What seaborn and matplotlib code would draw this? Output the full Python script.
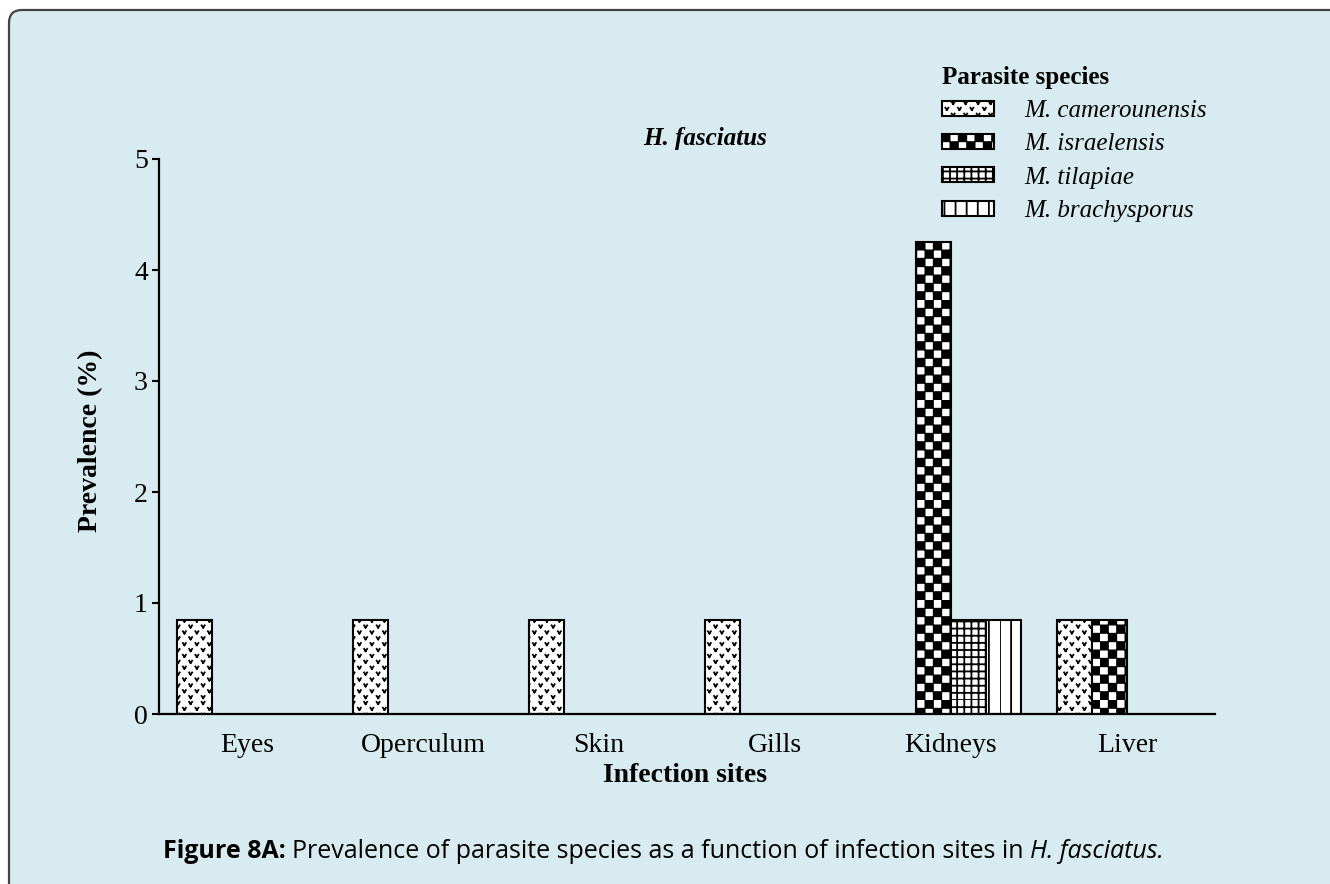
import os
import warnings
import numpy as np
import pandas as pd
import matplotlib
matplotlib.use("Agg")
import matplotlib.pyplot as plt
import matplotlib.hatch as mhatch
from matplotlib.path import Path
from matplotlib.patches import FancyBboxPatch
from matplotlib import font_manager
from matplotlib.font_manager import FontProperties
import seaborn as sns

warnings.filterwarnings("ignore")

# ---- data -------------------------------------------------------------
sites = ["Eyes", "Operculum", "Skin", "Gills", "Kidneys", "Liver"]
species = ["M. camerounensis", "M. israelensis", "M. tilapiae", "M. brachysporus"]
camerounensis = [0.85, 0.85, 0.85, 0.85, 0.0, 0.85]
israelensis = [0.0, 0.0, 0.0, 0.0, 4.25, 0.85]
tilapiae = [0.0, 0.0, 0.0, 0.0, 0.85, 0.0]
brachysporus = [0.0, 0.0, 0.0, 0.0, 0.85, 0.0]
y_ticks = [0, 1, 2, 3, 4, 5]

values = [camerounensis, israelensis, tilapiae, brachysporus]
df = pd.DataFrame(
    [(site, sp, vals[i]) for sp, vals in zip(species, values) for i, site in enumerate(sites)],
    columns=["site", "species", "prevalence"],
)


# ---- fill patterns (one tile = 1 inch, repeated over each bar) ---------
class _TilePattern(mhatch.HatchPatternBase):
    char = "?"

    def __init__(self, hatch, density):
        verts, codes = (self.build() if self.char in hatch else ([], []))
        self._v = np.asarray(verts, float).reshape(-1, 2)
        self._c = np.asarray(codes, dtype=Path.code_type)
        self.num_vertices = len(self._v)

    def set_vertices_and_codes(self, vertices, codes):
        vertices[:] = self._v
        codes[:] = self._c


class VMarks(_TilePattern):
    char = "*"

    def build(self):
        ncol, nrow, a, b = 8, 17, 0.015, 0.011
        v, c = [], []
        for i in range(nrow):
            yc = (i + 0.5) / nrow
            shift = 0.25 if i % 2 == 0 else 0.75
            for j in range(ncol):
                xc = (j + shift) / ncol
                v += [(xc - a, yc + b), (xc, yc - b), (xc, yc - b), (xc + a, yc + b)]
                c += [Path.MOVETO, Path.LINETO, Path.MOVETO, Path.LINETO]
        return v, c


class Checker(_TilePattern):
    char = "x"

    def build(self):
        n, e = 12, 0.004
        s = 1.0 / n
        v, c = [], []
        for i in range(n):
            for j in range(n):
                if (i + j) % 2 == 0:
                    x0, y0 = i * s + e, j * s + e
                    x1, y1 = (i + 1) * s - e, (j + 1) * s - e
                    v += [(x0, y0), (x1, y0), (x1, y1), (x0, y1), (x0, y0)]
                    c += [Path.MOVETO, Path.LINETO, Path.LINETO, Path.LINETO, Path.CLOSEPOLY]
        return v, c


class Grid(_TilePattern):
    char = "+"

    def build(self):
        n = 14
        v, c = [], []
        for k in range(n):
            p = k / n
            v += [(p, 0), (p, 1), (0, p), (1, p)]
            c += [Path.MOVETO, Path.LINETO, Path.MOVETO, Path.LINETO]
        return v, c


class VLines(_TilePattern):
    char = "|"

    def build(self):
        n = 9
        v, c = [], []
        for k in range(n):
            p = k / n
            v += [(p, 0), (p, 1)]
            c += [Path.MOVETO, Path.LINETO]
        return v, c


mhatch._hatch_types[:] = [VMarks, Checker, Grid, VLines]
patterns = ["*", "x", "+", "|"]

# ---- style ------------------------------------------------------------
sns.set_theme(style="ticks")
serif = ["Liberation Serif", "DejaVu Serif"]
plt.rcParams["font.family"] = serif
plt.rcParams["hatch.linewidth"] = 1.3
plt.rcParams["hatch.color"] = "black"
for key in ["text.color", "axes.labelcolor", "xtick.color", "ytick.color"]:
    plt.rcParams[key] = "black"


def has_bold(family):
    try:
        path = font_manager.findfont(FontProperties(family=family, weight="bold"),
                                     fallback_to_default=False)
    except Exception:
        return False
    return "bold" in os.path.basename(path).lower()


caption_family = ["DejaVu Sans"]
for fam in ["Noto Sans", "Open Sans", "Lato", "Roboto", "Liberation Sans"]:
    if has_bold(fam):
        caption_family = [fam, "DejaVu Sans"]
        break
caption_size = 18

W, H, DPI = 1330, 884, 100
bg = "#d7ebf1"
fig = plt.figure(figsize=(W / DPI, H / DPI), dpi=DPI, facecolor="white")

# rounded panel behind the figure
panel = FancyBboxPatch(
    (0.09, -0.4), 13.6, 9.14,
    boxstyle="round,pad=0,rounding_size=0.13",
    transform=fig.dpi_scale_trans, facecolor=bg, edgecolor="#444444",
    linewidth=1.6, zorder=-10,
)
fig.patches.append(panel)

ax = fig.add_axes([159 / W, 1 - 714 / H, (1215 - 159) / W, (714 - 159) / H])
ax.set_facecolor("none")

sns.barplot(
    data=df, x="site", y="prevalence", hue="species",
    order=sites, hue_order=species, palette=["white"] * 4,
    saturation=1, width=0.8, errorbar=None, edgecolor="black",
    linewidth=1.5, ax=ax,
)

for container, pat in zip(ax.containers, patterns):
    for bar in container:
        bar.set_hatch(pat)
        if bar.get_height() == 0:
            bar.set_visible(False)

ax.set_xlim(-0.5, len(sites) - 0.5)
ax.set_ylim(0, 5)
ax.set_yticks(y_ticks)
ax.tick_params(axis="y", labelsize=20, length=5, width=1.5, pad=3, colors="black")
ax.tick_params(axis="x", labelsize=20, length=0, pad=14, colors="black")
for side in ["top", "right"]:
    ax.spines[side].set_visible(False)
for side in ["left", "bottom"]:
    ax.spines[side].set_linewidth(1.6)
    ax.spines[side].set_color("black")

ax.set_xlabel("Infection sites", fontsize=20, fontweight="bold", va="center")
ax.xaxis.set_label_coords((685 - 159) / (1215 - 159), -(776 - 714) / (714 - 159))
ax.set_ylabel("Prevalence (%)", fontsize=20, fontweight="bold", va="center")
ax.yaxis.set_label_coords(-(159 - 91) / (1215 - 159), (714 - 441) / (714 - 159))

# legend
handles = [c.patches[0] for c in ax.containers]
old = ax.get_legend()
if old is not None:
    old.remove()
leg = ax.legend(
    handles, species, title="Parasite species", loc="upper left",
    bbox_to_anchor=(942 / W, 1 - 66 / H), bbox_transform=fig.transFigure,
    frameon=False, borderpad=0, borderaxespad=0,
    handlelength=2.1, handleheight=0.55, handletextpad=1.2, labelspacing=0.45,
    alignment="left",
    prop={"family": serif, "style": "italic", "size": 18},
    title_fontproperties={"family": serif, "weight": "bold", "size": 18},
)
for h in leg.legend_handles:
    h.set_visible(True)

fig.text(705 / W, 1 - 139 / H, "H. fasciatus", fontsize=18, fontweight="bold",
         style="italic", ha="center", va="center")

# caption assembled from bold / regular / italic runs
renderer = fig.canvas.get_renderer()
cap_y = 1 - 851 / H
x = 163
runs = [
    ("Figure 8A:", "bold", "normal"),
    ("Prevalence of parasite species as a function of infection sites in", "normal", "normal"),
    ("H. fasciatus.", "normal", "italic"),
]
probe = fig.text(0, 0, "a a", fontsize=caption_size, family=caption_family)
probe2 = fig.text(0, 0, "aa", fontsize=caption_size, family=caption_family)
space = probe.get_window_extent(renderer).width - probe2.get_window_extent(renderer).width
probe.remove()
probe2.remove()
for s, w, st in runs:
    t = fig.text(x / W, cap_y, s, fontsize=caption_size, family=caption_family,
                 fontweight=w, style=st, ha="left", va="center")
    x += t.get_window_extent(renderer).width + space

fig.savefig("out.png", dpi=DPI, facecolor="white")
